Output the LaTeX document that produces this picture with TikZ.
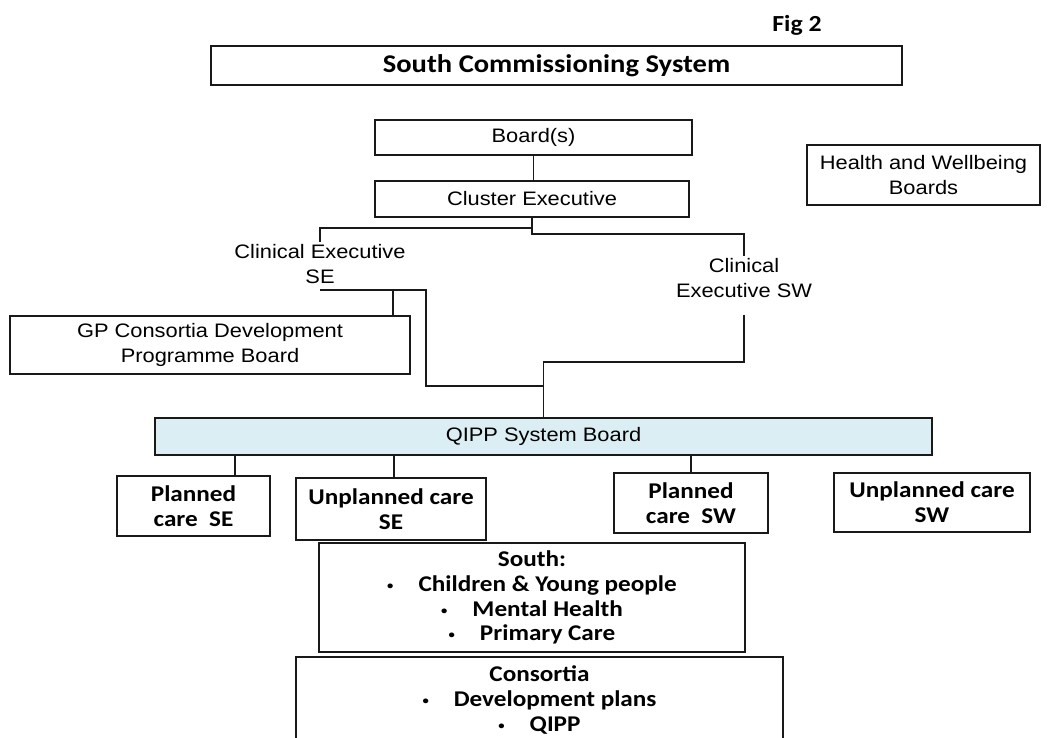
\documentclass[tikz,border=0pt]{standalone}
\usepackage{fontspec}
\usepackage{tikz}
\usetikzlibrary{positioning,calc}
\newfontfamily\arialfam{Liberation Sans}[FakeStretch=1.12]
\newfontfamily\califam{Carlito}[FakeStretch=1.12]
\definecolor{qippblue}{RGB}{219,238,244}
\definecolor{lineblack}{RGB}{25,25,25}
\newcommand{\plaintext}{\arialfam\fontsize{19.5}{25}\selectfont}
\newcommand{\boldtext}{\califam\bfseries\fontsize{22.5}{24.8}\selectfont}
\newcommand{\bul}{\raisebox{2pt}{\scalebox{0.5}{\textbullet}}\hspace{25pt}}
\tikzstyle{conn} = [line width=1.7pt, color=lineblack]
\tikzstyle{plainbox} = [rectangle, draw=lineblack, line width=1.7pt, inner sep=0pt, text centered, align=center, font=\plaintext]
\tikzstyle{boldbox} = [plainbox, font=\boldtext]
\tikzstyle{freetext} = [inner sep=2pt, align=center, font=\plaintext]

\begin{document}
\begin{tikzpicture}[x=1pt, y=-1pt]
    \useasboundingbox (0,0) rectangle (1051,738);
    \clip (0,0) rectangle (1051,738);

    % Heading
    \node[font=\califam\bfseries\fontsize{23}{26}\selectfont] (fig) at (797,25) {Fig 2};
    \node[boldbox, minimum width=691, minimum height=39, font=\califam\bfseries\fontsize{25.5}{28}\selectfont] (scs) at (556.5,65.5) {South Commissioning System};

    % Top nodes
    \node[plainbox, minimum width=317, minimum height=35] (board) at (533.5,137.5) {Board(s)};
    \node[plainbox, minimum width=314, minimum height=36] (clus) at (532,199) {Cluster Executive};
    \node[plainbox, minimum width=233, minimum height=60] (hwb) at (923.5,175) {Health and Wellbeing\\Boards};
    \node[freetext] (cese) at (320,264) {Clinical Executive\\SE};
    \node[freetext] (cesw) at (744,278) {Clinical\\Executive SW};
    \node[plainbox, minimum width=400, minimum height=58] (gp) at (210,345) {GP Consortia Development\\Programme Board};

    % QIPP board and workstreams
    \node[plainbox, minimum width=777, minimum height=37, fill=qippblue] (qipp) at (543.5,436.5) {QIPP System Board};
    \node[boldbox, minimum width=153, minimum height=60] (pcse) at (193.5,506) {Planned\\care~ SE};
    \node[boldbox, minimum width=190, minimum height=62] (upse) at (391,509) {Unplanned care\\SE};
    \node[boldbox, minimum width=154, minimum height=60] (pcsw) at (691,503) {Planned\\care~ SW};
    \node[boldbox, minimum width=196, minimum height=59] (upsw) at (932,502.5) {Unplanned care\\SW};
    \node[boldbox, minimum width=426, minimum height=109] (sth) at (532,597.5) {South:\\\bul Children \& Young people\\\bul Mental Health\\\bul Primary Care};
    \node[boldbox, minimum width=487, minimum height=86] (cons) at (539.5,700) {Consortia\\\bul Development plans\\\bul QIPP};

    % Lines
    \draw[conn] (board.south) -- (board.south |- clus.north);
    \draw[conn] (cese.north) |- ($(clus.south)+(0,10)$);
    \draw[conn] (clus.south) -- ++(0,16) -| (cesw.north);
    \draw[conn] ($(cese.south)+(0,4)$) -- ++(106,0) |- ($(qipp.north)+(0,-31)$);
    \draw[conn] ($(gp.north east)+(-18,0)$) -- ++(0,-25);
    \draw[conn] ($(cesw.south)+(0,15)$) |- ($(qipp.north)+(0,-55)$) -- (qipp.north);
    \draw[conn] ([xshift=41.5pt]pcse.north) -- ([xshift=41.5pt]pcse.north |- qipp.south);
    \draw[conn] ([xshift=3pt]upse.north) -- ([xshift=3pt]upse.north |- qipp.south);
    \draw[conn] (pcsw.north) -- (pcsw.north |- qipp.south);
\end{tikzpicture}
\end{document}
